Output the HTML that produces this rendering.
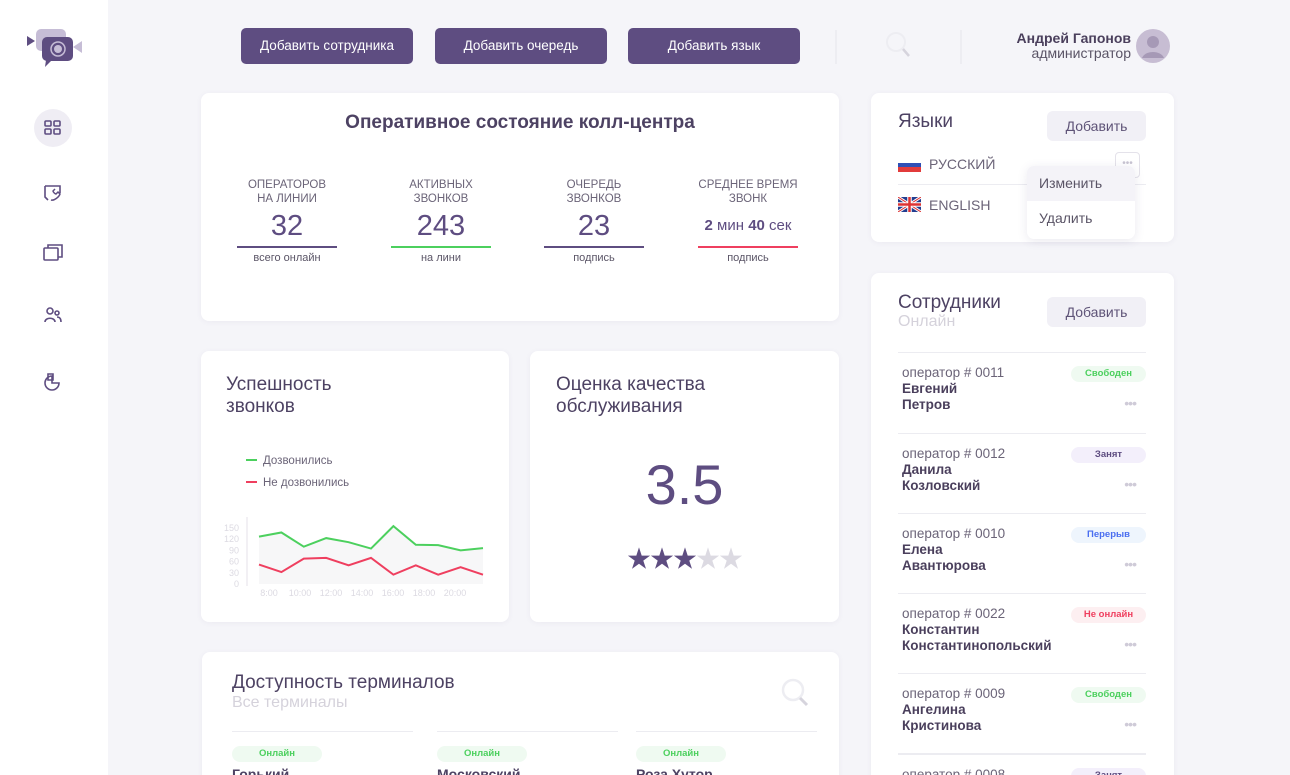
<!DOCTYPE html>
<html style="width:1290px;height:775px;overflow:hidden"><head><meta charset="utf-8">
<style>
*{box-sizing:border-box;margin:0;padding:0}
body{width:1290px;height:775px;overflow:hidden;background:#f5f5f9;font-family:"Liberation Sans","Noto Sans CJK SC",sans-serif;color:#4d4263;position:relative}
.abs{position:absolute}
.card{position:absolute;background:#fff;border-radius:8px;box-shadow:0 1px 6px rgba(80,70,120,.06)}
.btn{position:absolute;background:#5e4d81;color:#fff;font-size:13.5px;border-radius:5px;text-align:center;line-height:36px;height:36px}
.lbtn{position:absolute;background:#f1f0f6;color:#5e5377;font-size:14px;border-radius:6px;text-align:center;line-height:30px;height:30px;width:99px}
.stat{position:absolute;width:100px;text-align:center}
.stat .t{font-size:11.5px;color:#6b6478;line-height:14px;height:28px}
.stat .v{font-size:29px;color:#5e4d81;line-height:40px;height:40px}
.stat .bar{height:2px;margin:0 0 4px}
.stat .s{font-size:11px;color:#5a5466}
.op{position:absolute;left:898px;width:248px;height:80px;border-top:1px solid #ececf1}
.op .n{position:absolute;left:4px;top:12px;font-size:13.5px;color:#6b6478}
.op .nm{position:absolute;left:4px;top:28px;font-size:13.5px;font-weight:bold;color:#4a3f5c;line-height:16px}
.op .tag{position:absolute;right:0;top:13px;width:75px;height:16px;border-radius:8px;font-size:9.5px;font-weight:bold;text-align:center;line-height:16px}
.op .dots{position:absolute;right:10px;top:42px;color:#cfcbd8;font-size:14px;letter-spacing:-1px}
.ico{position:absolute;left:42px;width:22px;height:22px}
</style></head><body>
<div class="abs" style="left:0;top:0;width:108px;height:775px;background:#fff"></div>
<svg class="abs" style="left:26px;top:28px" width="58" height="42" viewBox="0 0 58 42">
<rect x="10" y="1" width="30" height="22" rx="5" fill="#c6bdd6"/>
<polygon points="1,8 9,13 1,18" fill="#5e4d81"/>
<polygon points="56,13 47,19 56,25" fill="#c6bdd6"/>
<rect x="16" y="9" width="31" height="24" rx="5" fill="#5e4d81"/>
<polygon points="20,32 26,32 19,39" fill="#5e4d81"/>
<circle cx="32" cy="21" r="7" fill="none" stroke="#c6bdd6" stroke-width="1.5"/><circle cx="32" cy="21" r="4" fill="#c6bdd6"/>
</svg>
<div class="abs" style="left:34px;top:109px;width:38px;height:38px;border-radius:50%;background:#efedf4"></div>
<svg class="ico" style="top:117px" viewBox="0 0 22 22"><g fill="none" stroke="#5e4d81" stroke-width="1.6"><rect x="3" y="4" width="6" height="5" rx="1"/><rect x="12" y="4" width="6" height="5" rx="1"/><rect x="3" y="12" width="6" height="5" rx="1"/><rect x="12" y="12" width="6" height="5" rx="1"/></g></svg>
<svg class="ico" style="top:182px" viewBox="0 0 22 22"><path d="M3 4h15v7M3 4v11l3 3M3 4" fill="none" stroke="#5e4d81" stroke-width="1.6"/><path d="M9 18c3 1 8-3 9-6l-2-2-2 2c-1 0-3-2-3-3l2-2" fill="none" stroke="#5e4d81" stroke-width="1.5"/></svg>
<svg class="ico" style="top:242px" viewBox="0 0 22 22"><g fill="none" stroke="#5e4d81" stroke-width="1.6"><rect x="2" y="6" width="14" height="12" rx="1"/><path d="M6 6V3h14v12h-4"/></g></svg>
<svg class="ico" style="top:304px" viewBox="0 0 22 22"><g fill="none" stroke="#5e4d81" stroke-width="1.6"><circle cx="8" cy="7" r="3"/><path d="M3 18c0-5 10-5 10 0"/><circle cx="15" cy="9" r="2"/><path d="M15 13c3 0 4 2 4 5"/></g></svg>
<svg class="ico" style="top:371px" viewBox="0 0 22 22"><g fill="none" stroke="#5e4d81" stroke-width="1.6"><path d="M10 5a7 7 0 1 0 7 7h-7z"/><path d="M6 3h5v6H6z"/></g></svg>

<div class="btn" style="left:241px;top:28px;width:172px">Добавить сотрудника</div>
<div class="btn" style="left:435px;top:28px;width:172px">Добавить очередь</div>
<div class="btn" style="left:628px;top:28px;width:172px">Добавить язык</div>
<div class="abs" style="left:835px;top:30px;width:2px;height:34px;background:#ededf2"></div>
<div class="abs" style="left:960px;top:30px;width:2px;height:34px;background:#ededf2"></div>
<svg class="abs" style="left:884px;top:30px" width="28" height="30"><circle cx="12" cy="12" r="9" fill="none" stroke="#ededf2" stroke-width="2"/><line x1="19" y1="19" x2="25" y2="26" stroke="#d6d4dd" stroke-width="2.5"/></svg>
<div class="abs" style="left:980px;top:30px;width:151px;text-align:right;font-size:14px;font-weight:bold;color:#4a3f5c">Андрей Гапонов</div>
<div class="abs" style="left:980px;top:45px;width:151px;text-align:right;font-size:14px;color:#5a5466">администратор</div>
<svg class="abs" style="left:1136px;top:29px" width="34" height="34"><circle cx="17" cy="17" r="17" fill="#c7bdd3"/><circle cx="17" cy="13" r="6" fill="#a699b6"/><path d="M6 29c3-8 19-8 22 0" fill="#a699b6"/></svg>

<div class="card" style="left:201px;top:93px;width:638px;height:228px"></div>
<div class="abs" style="left:201px;top:112px;width:638px;text-align:center;font-size:19px;font-weight:bold;color:#4d4263">Оперативное состояние колл-центра</div>
<div class="stat" style="left:237px;top:178px"><div class="t">ОПЕРАТОРОВ<br>НА ЛИНИИ</div><div class="v">32</div><div class="bar" style="background:#5e4d81"></div><div class="s">всего онлайн</div></div>
<div class="stat" style="left:391px;top:178px"><div class="t">АКТИВНЫХ<br>ЗВОНКОВ</div><div class="v">243</div><div class="bar" style="background:#4cd05e"></div><div class="s">на лини</div></div>
<div class="stat" style="left:544px;top:178px"><div class="t">ОЧЕРЕДЬ<br>ЗВОНКОВ</div><div class="v">23</div><div class="bar" style="background:#5e4d81"></div><div class="s">подпись</div></div>
<div class="stat" style="left:698px;top:178px"><div class="t">СРЕДНЕЕ ВРЕМЯ<br>ЗВОНК</div><div class="v" style="font-size:15px"><b>2</b> мин <b>40</b> сек</div><div class="bar" style="background:#ef3f5f"></div><div class="s">подпись</div></div>

<div class="card" style="left:201px;top:351px;width:308px;height:271px"></div>
<div class="abs" style="left:226px;top:374px;font-size:19px;line-height:22px;color:#4d4263">Успешность<br>звонков</div>
<svg class="abs" id="chart" style="left:201px;top:440px" width="308" height="170"></svg>

<div class="card" style="left:530px;top:351px;width:309px;height:271px"></div>
<div class="abs" style="left:556px;top:374px;font-size:19px;line-height:22px;color:#4d4263">Оценка качества<br>обслуживания</div>
<div class="abs" style="left:530px;top:452px;width:309px;text-align:center;font-size:56px;color:#5e4d81">3.5</div>
<div class="abs" style="left:530px;top:539px;width:309px;text-align:center;font-size:24px;letter-spacing:-1px;color:#5e4d81">★★★<span style="color:#dcdae2">★★</span></div>

<div class="card" style="left:202px;top:652px;width:637px;height:140px"></div>
<div class="abs" style="left:232px;top:672px;font-size:19px;color:#4d4263">Доступность терминалов</div>
<div class="abs" style="left:232px;top:694px;font-size:16px;color:#d5d2db">Все терминалы</div>
<svg class="abs" style="left:780px;top:677px" width="30" height="32"><circle cx="13" cy="13" r="10" fill="none" stroke="#ededf2" stroke-width="2.5"/><line x1="20" y1="21" x2="27" y2="28" stroke="#d6d4dd" stroke-width="3"/></svg>
<div class="abs" style="left:232px;top:731px;width:181px;border-top:1px solid #ececf1"><div style="margin-top:14px;width:90px;height:16px;background:#effaf1;color:#4cd05e;border-radius:8px;font-size:9.5px;font-weight:bold;text-align:center;line-height:16px">Онлайн</div><div style="font-size:14px;font-weight:bold;margin-top:4px">Горький</div></div>
<div class="abs" style="left:437px;top:731px;width:181px;border-top:1px solid #ececf1"><div style="margin-top:14px;width:90px;height:16px;background:#effaf1;color:#4cd05e;border-radius:8px;font-size:9.5px;font-weight:bold;text-align:center;line-height:16px">Онлайн</div><div style="font-size:14px;font-weight:bold;margin-top:4px">Московский</div></div>
<div class="abs" style="left:636px;top:731px;width:181px;border-top:1px solid #ececf1"><div style="margin-top:14px;width:90px;height:16px;background:#effaf1;color:#4cd05e;border-radius:8px;font-size:9.5px;font-weight:bold;text-align:center;line-height:16px">Онлайн</div><div style="font-size:14px;font-weight:bold;margin-top:4px">Роза Хутор</div></div>

<div class="card" style="left:871px;top:93px;width:303px;height:149px"></div>
<div class="abs" style="left:898px;top:111px;font-size:19px;color:#4d4263">Языки</div>
<div class="lbtn" style="left:1047px;top:111px">Добавить</div>
<svg class="abs" style="left:898px;top:158px" width="23" height="14"><rect width="23" height="5" fill="#fff"/><rect y="5" width="23" height="4" fill="#2f4fb5"/><rect y="9" width="23" height="5" fill="#e23b3b"/></svg>
<div class="abs" style="left:929px;top:156px;font-size:14px;color:#6b6478">РУССКИЙ</div>
<div class="abs" style="left:1115px;top:152px;width:25px;height:26px;border:1.5px solid #e4e2ea;border-radius:4px;color:#c8c4d2;font-size:10px;text-align:center;line-height:22px">•••</div>
<div class="abs" style="left:898px;top:184px;width:248px;height:1px;background:#ececf1"></div>
<svg class="abs" style="left:898px;top:197px" width="23" height="15"><rect width="23" height="15" fill="#233d8f"/><path d="M0 0L23 15M23 0L0 15" stroke="#fff" stroke-width="3"/><path d="M0 0L23 15M23 0L0 15" stroke="#d33" stroke-width="1"/><path d="M11.5 0V15M0 7.5H23" stroke="#fff" stroke-width="4.5"/><path d="M11.5 0V15M0 7.5H23" stroke="#d33" stroke-width="2.5"/></svg>
<div class="abs" style="left:929px;top:197px;font-size:14px;color:#6b6478">ENGLISH</div>
<div class="abs" style="left:1027px;top:166px;width:108px;height:73px;background:#fff;border-radius:7px;box-shadow:0 2px 10px rgba(80,70,120,.12);overflow:hidden">
<div style="height:35px;background:#f4f3f8;padding-left:12px;line-height:35px;font-size:14px;color:#5a5466">Изменить</div>
<div style="height:35px;padding-left:12px;line-height:35px;font-size:14px;color:#5a5466">Удалить</div></div>

<div class="card" style="left:871px;top:273px;width:303px;height:520px"></div>
<div class="abs" style="left:898px;top:292px;font-size:19px;color:#4d4263">Сотрудники</div>
<div class="abs" style="left:898px;top:313px;font-size:16px;color:#d5d2db">Онлайн</div>
<div class="lbtn" style="left:1047px;top:297px">Добавить</div>

<div class="op" style="top:352px"><div class="n">оператор # 0011</div><div class="nm">Евгений<br>Петров</div><div class="tag" style="background:#effaf1;color:#4cd05e">Свободен</div><div class="dots">•••</div></div>
<div class="op" style="top:433px"><div class="n">оператор # 0012</div><div class="nm">Данила<br>Козловский</div><div class="tag" style="background:#f3effb;color:#5e4d81">Занят</div><div class="dots">•••</div></div>
<div class="op" style="top:513px"><div class="n">оператор # 0010</div><div class="nm">Елена<br>Авантюрова</div><div class="tag" style="background:#eef5fd;color:#4a6ef0">Перерыв</div><div class="dots">•••</div></div>
<div class="op" style="top:593px"><div class="n">оператор # 0022</div><div class="nm">Константин<br>Константинопольский</div><div class="tag" style="background:#fdeff1;color:#ef3f5f">Не онлайн</div><div class="dots">•••</div></div>
<div class="op" style="top:673px"><div class="n">оператор # 0009</div><div class="nm">Ангелина<br>Кристинова</div><div class="tag" style="background:#effaf1;color:#4cd05e">Свободен</div><div class="dots">•••</div></div>
<div class="op" style="top:753px;height:22px;border-top:2px solid #ececf1;overflow:hidden"><div class="n">оператор # 0008</div><div class="tag" style="background:#f3effb;color:#5e4d81">Занят</div></div>

<script>
const categories=["8:00","9:00","10:00","11:00","12:00","13:00","14:00","16:00","17:00","18:00","19:00"];
const reached=[127,138,100,123,112,95,155,105,104,90,96];
const missed=[52,32,68,70,50,70,25,50,25,45,25];
const yTicks=[0,30,60,90,120,150];
const xTickLabels=["8:00","10:00","12:00","14:00","16:00","18:00","20:00"];
const svg=document.getElementById('chart');
const NS='http://www.w3.org/2000/svg';
const x0=58,x1=282,yb=144,yt=88;
function xs(i){return x0+(x1-x0)*i/(categories.length-1);}
function ys(v){return yb-(yb-yt)*v/150;}
function mk(t,a){const e=document.createElementNS(NS,t);for(const k in a)e.setAttribute(k,a[k]);svg.appendChild(e);return e;}
let ax=mk('line',{x1:46,y1:77,x2:46,y2:146,stroke:'#e4e2ea','stroke-width':1});


yTicks.forEach(v=>{const t=mk('text',{x:38,y:ys(v)+3,'text-anchor':'end','font-size':9,fill:'#dcdae2'});t.textContent=v;

});
xTickLabels.forEach((l,i)=>{const t=mk('text',{x:68+i*31,y:156,'text-anchor':'middle','font-size':9,fill:'#dcdae2'});t.textContent=l;

});
let area='M'+xs(0)+','+yb+reached.map((v,i)=>'L'+xs(i)+','+ys(v)).join('')+'L'+xs(reached.length-1)+','+yb+'Z';
let ar=mk('path',{d:area,fill:'#f7f7f8'});


function line(arr,c,n){const p=mk('polyline',{points:arr.map((v,i)=>xs(i)+','+ys(v)).join(' '),fill:'none',stroke:c,'stroke-width':2});

}
line(reached,'#4cd05e','reached-line');
line(missed,'#ef3f5f','missed-line');
[["Дозвонились","#4cd05e",20],["Не дозвонились","#ef3f5f",42]].forEach(([l,c,y])=>{
const g=mk('line',{x1:45,y1:y,x2:56,y2:y,stroke:c,'stroke-width':2});


const t=mk('text',{x:62,y:y+4,'font-size':11.5,fill:'#6b6478'});t.textContent=l;

});
</script>
</body></html>
